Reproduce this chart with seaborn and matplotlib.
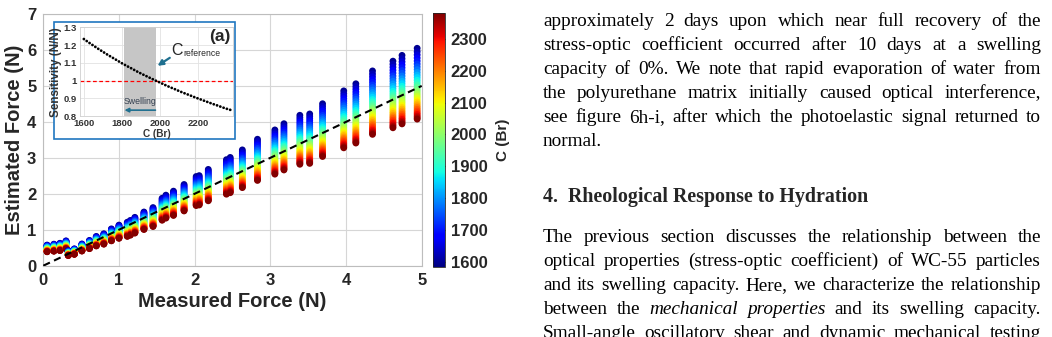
import pandas as pd
import matplotlib
import matplotlib.pyplot as plt
from matplotlib.colors import Normalize
from matplotlib.cm import ScalarMappable
from matplotlib.patches import Rectangle
import seaborn as sns

# measured force of each loading step (N) and its estimate at the reference C (N)
measured_force = [0.05, 0.14, 0.22, 0.30, 0.33, 0.41, 0.51, 0.61, 0.70, 0.80, 0.90, 1.00,
                  1.11, 1.15, 1.21, 1.33, 1.45, 1.57, 1.62, 1.72, 1.86, 2.02, 2.06, 2.18,
                  2.42, 2.47, 2.63, 2.83, 3.06, 3.18, 3.39, 3.52, 3.69, 3.97, 4.13, 4.35,
                  4.62, 4.74, 4.94]
estimated_at_ref = [0.465, 0.485, 0.505, 0.56, 0.34, 0.38, 0.49, 0.57, 0.66, 0.72, 0.83, 0.915,
                    0.98, 1.02, 1.09, 1.21, 1.31, 1.52, 1.59, 1.68, 1.83, 2.01, 2.03, 2.17,
                    2.39, 2.44, 2.61, 2.85, 3.06, 3.20, 3.39, 3.42, 3.65, 3.94, 4.10, 4.39,
                    4.61, 4.74, 4.90]

# inset (a): sensitivity of the estimate vs stress-optic coefficient C (Br)
c_levels = [1600, 1625, 1650, 1675, 1700, 1725, 1750, 1775, 1800, 1825, 1850, 1875,
            1900, 1925, 1950, 1975, 2000, 2025, 2050, 2075, 2100, 2125, 2150, 2175,
            2200, 2225, 2250, 2275, 2300, 2325, 2350, 2375]
sensitivity = [1.234, 1.215, 1.197, 1.179, 1.162, 1.145, 1.129, 1.113, 1.097, 1.082, 1.068, 1.053,
               1.039, 1.026, 1.013, 1.000, 0.988, 0.975, 0.963, 0.952, 0.940, 0.929, 0.919, 0.908,
               0.898, 0.888, 0.878, 0.868, 0.859, 0.849, 0.840, 0.832]
swelling_band = (1810, 1978)
c_range = (1585, 2380)
ideal_line = [0, 5]

para1 = ["approximately 2 days upon which near full recovery of the",
         "stress-optic coefficient occurred after 10 days at a swelling",
         "capacity of 0%.  We note that rapid evaporation of water from",
         "the polyurethane matrix initially caused optical interference,",
         "see figure 6h-i, after which the photoelastic signal returned to",
         "normal."]
heading = "4.  Rheological Response to Hydration"
para2 = ["The previous section discusses the relationship between the",
         "optical properties (stress-optic coefficient) of WC-55 particles",
         "and its swelling capacity. Here, we characterize the relationship",
         "between the *mechanical *properties and its swelling capacity.",
         "Small-angle oscillatory shear and dynamic mechanical testing"]

sns.set_style("white")
plt.rcParams['font.family'] = ['Liberation Sans', 'DejaVu Sans']
jet = matplotlib.colormaps['jet']

rows = []
for mf, est in zip(measured_force, estimated_at_ref):
    for c, s in zip(c_levels, sensitivity):
        rows.append((mf, est * s, c))
df = pd.DataFrame(rows, columns=['measured', 'estimated', 'C'])

W, H = 1052, 337
fig = plt.figure(figsize=(W / 100, H / 100), dpi=100)


def fig_box(left, top, right, bottom):
    return [left / W, 1 - bottom / H, (right - left) / W, (bottom - top) / H]


# --- main panel ---
ax = fig.add_axes(fig_box(43.3, 14, 421.7, 265.7))
sns.scatterplot(data=df, x='measured', y='estimated', hue='C', palette=jet,
                hue_norm=c_range, s=24, linewidth=0, legend=False, ax=ax, zorder=3)
sns.lineplot(x=ideal_line, y=ideal_line, color='black', lw=1.5,
             linestyle=(0, (3.5, 2.2)), ax=ax, zorder=4)
ax.set_xlim(0, 5)
ax.set_ylim(0, 7)
ax.set_xticks(range(6))
ax.set_yticks(range(8))
ax.grid(True, color='#d6d6d6', lw=0.8)
ax.set_axisbelow(True)
for sp in ax.spines.values():
    sp.set_color('#bdbdbd')
    sp.set_linewidth(0.8)
ax.tick_params(labelsize=12, direction='in', length=3, color='#888888',
               labelcolor='#262626', pad=5)
for t in ax.get_xticklabels() + ax.get_yticklabels():
    t.set_fontweight('bold')
ax.set_xlabel("Measured Force (N)", fontsize=14.5, fontweight='bold', color='#262626', labelpad=3)
ax.set_ylabel("Estimated Force (N)", fontsize=14.5, fontweight='bold', color='#262626', labelpad=2)

# --- colorbar ---
cax = fig.add_axes(fig_box(432.7, 13.3, 445, 266.7))
cb = fig.colorbar(ScalarMappable(norm=Normalize(*c_range), cmap=jet), cax=cax)
cb.set_ticks(range(1600, 2400, 100))
cb.ax.tick_params(labelsize=12, direction='in', length=3, pad=4, colors='#262626')
for t in cb.ax.get_yticklabels():
    t.set_fontweight('bold')
cb.outline.set_linewidth(0.6)
cb.set_label("C (Br)", fontsize=11, fontweight='bold', color='#262626', labelpad=6)

# --- inset (a) ---
fig.add_artist(Rectangle((54.3 / W, 1 - 139.3 / H), (235 - 54.3) / W, (139.3 - 22.3) / H,
                         transform=fig.transFigure, facecolor='white',
                         edgecolor='#2077c0', lw=1.2, zorder=1))
axi = fig.add_axes(fig_box(80, 27.3, 233, 116))
axi.set_zorder(2)
axi.axvspan(*swelling_band, color='#c6c6c6', lw=0, zorder=1)
axi.axhline(1, color='red', lw=0.9, linestyle=(0, (3, 2)), zorder=2)
axi.plot(c_levels, sensitivity, color='black', lw=2.0,
         linestyle=(0, (0.05, 1.2)), dash_capstyle='round', zorder=3)
axi.set_xlim(1580, 2381)
axi.set_ylim(0.8, 1.3)
axi.set_xticks([1600, 1800, 2000, 2200])
axi.set_yticks([0.8, 0.9, 1.0, 1.1, 1.2, 1.3])
axi.set_yticklabels(['0.8', '0.9', '1', '1.1', '1.2', '1.3'])
axi.grid(True, color='#e2e2e2', lw=0.6)
axi.set_axisbelow(True)
for sp in axi.spines.values():
    sp.set_color('#cfcfcf')
    sp.set_linewidth(0.6)
axi.tick_params(labelsize=6.8, length=0, pad=2, labelcolor='#333333')
for t in axi.get_xticklabels() + axi.get_yticklabels():
    t.set_fontweight('bold')
axi.set_xlabel("C (Br)", fontsize=7.2, fontweight='bold', color='#333333', labelpad=1)
axi.set_ylabel("Sensitivity (N/N)", fontsize=8.4, fontweight='bold', color='#333333', labelpad=1)
axi.text(2366, 1.222, "(a)", fontsize=12.5, fontweight='bold', ha='right', va='baseline')
axi.text(2060, 1.143, "C", fontsize=11.5, ha='left', va='baseline', color='#262626')
axi.text(2121, 1.139, "reference", fontsize=6.2, ha='left', va='baseline', color='#262626')
axi.annotate("", xy=(1986, 1.083), xytext=(2050, 1.128),
             arrowprops=dict(arrowstyle='-|>', color='#1f6f8f', lw=1.6, mutation_scale=8,
                             shrinkA=0, shrinkB=0))
axi.text(1896, 0.880, "Swelling", fontsize=6.3, ha='center', va='center', color='#333f4f')
axi.annotate("", xy=(1813, 0.833), xytext=(1975, 0.833),
             arrowprops=dict(arrowstyle='-|>', color='#1f6f8f', lw=1.2, mutation_scale=6,
                             shrinkA=0, shrinkB=0))

# --- page text on the right ---
renderer = fig.canvas.get_renderer()
TEXT_L, TEXT_R = 543, 1041
SERIF = ['Liberation Serif', 'DejaVu Serif']
FS = 13.9


def put_line(line, baseline, justify=True):
    arts = []
    for word in line.split():
        style = 'normal'
        if word.startswith('*'):
            style, word = 'italic', word[1:]
        arts.append(fig.text(0, 1 - baseline / H, word, family=SERIF, fontsize=FS,
                             style=style, ha='left', va='baseline', color='black'))
    widths = [a.get_window_extent(renderer).width for a in arts]
    gap = (TEXT_R - TEXT_L - sum(widths)) / (len(arts) - 1) if justify and len(arts) > 1 else 4.8
    x = TEXT_L
    for a, wd in zip(arts, widths):
        a.set_x(x / W)
        x += wd + gap


for i, line in enumerate(para1):
    put_line(line, 26 + 24 * i, justify=i < len(para1) - 1)
fig.text(TEXT_L / W, 1 - 201.7 / H, heading, family=SERIF, fontsize=14.4,
         fontweight='bold', ha='left', va='baseline')
for i, line in enumerate(para2):
    put_line(line, 241.7 + 24 * i)

fig.savefig("out.png", dpi=100)
